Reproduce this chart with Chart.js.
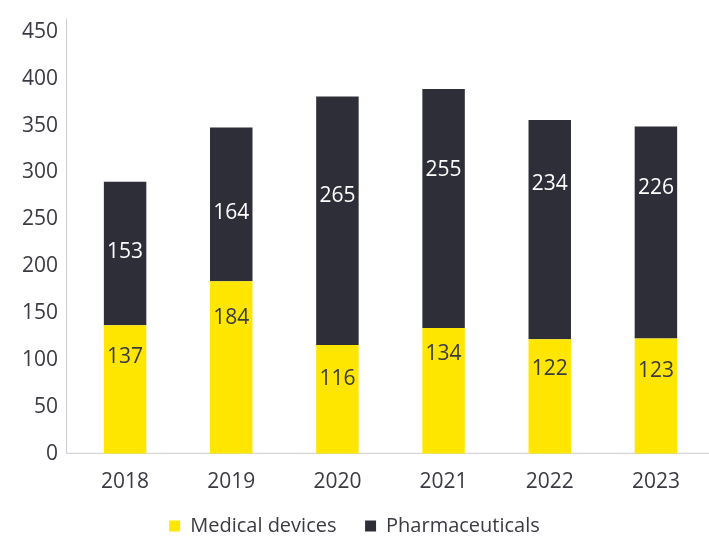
<!DOCTYPE html>
<html lang="en">
<head>
    <meta charset="UTF-8">
    <title>Medical devices and pharmaceuticals</title>
    <script src="https://cdn.jsdelivr.net/npm/chart.js"></script>
    <style>
        body { margin: 0; background: #fff; }
        #wrap { width: 709px; height: 536px; }
    </style>
</head>
<body>
    <div id="wrap"><canvas id="chart" width="709" height="536"></canvas></div>
    <script>
        const years = ['2018', '2019', '2020', '2021', '2022', '2023'];
        const medicalDevices = [137, 184, 116, 134, 122, 123];
        const pharmaceuticals = [153, 164, 265, 255, 234, 226];

        // where each value label sits inside its segment (0 = bottom, 1 = top)
        const medLabelAt = [0.75, 0.785, 0.69, 0.79, 0.745, 0.72];
        const pharmaLabelAt = [0.51, 0.445, 0.60, 0.66, 0.71, 0.71];

        const yellow = '#FFE600';
        const dark = '#2E2E38';
        const textColor = '#3a3a42';
        const axisColor = '#cbcbd3';
        const fontFamily = '"Open Sans", sans-serif';

        // axis lines sit a few pixels left of the first category
        const axisLines = {
            id: 'axisLines',
            beforeDatasetsDraw(chart) {
                const { ctx, chartArea } = chart;
                const x0 = chartArea.left - 5.5;
                const y0 = chartArea.bottom - 0.5;
                ctx.save();
                ctx.strokeStyle = axisColor;
                ctx.lineWidth = 1;
                ctx.beginPath();
                ctx.moveTo(x0, chartArea.top);
                ctx.lineTo(x0, y0);
                ctx.lineTo(chartArea.right, y0);
                ctx.stroke();
                ctx.restore();
            }
        };

        // writes the value of every segment on the bar itself
        const segmentLabels = {
            id: 'segmentLabels',
            afterDatasetsDraw(chart) {
                const ctx = chart.ctx;
                ctx.save();
                ctx.font = '21px ' + fontFamily;
                ctx.textAlign = 'center';
                ctx.textBaseline = 'middle';
                chart.data.datasets.forEach((ds, di) => {
                    const meta = chart.getDatasetMeta(di);
                    const spots = di === 0 ? medLabelAt : pharmaLabelAt;
                    ctx.fillStyle = di === 0 ? textColor : '#ffffff';
                    meta.data.forEach((bar, i) => {
                        const y = bar.base + (bar.y - bar.base) * spots[i];
                        ctx.fillText(ds.data[i], bar.x, y);
                    });
                });
                ctx.restore();
            }
        };

        new Chart(document.getElementById('chart'), {
            type: 'bar',
            data: {
                labels: years,
                datasets: [
                    {
                        label: 'Medical devices',
                        data: medicalDevices,
                        backgroundColor: yellow,
                        barPercentage: 0.4,
                        categoryPercentage: 1
                    },
                    {
                        label: 'Pharmaceuticals',
                        data: pharmaceuticals,
                        backgroundColor: dark,
                        barPercentage: 0.4,
                        categoryPercentage: 1
                    }
                ]
            },
            options: {
                responsive: false,
                animation: false,
                layout: { padding: { top: 10, right: 0, left: 0, bottom: -10 } },
                scales: {
                    x: {
                        stacked: true,
                        grid: { display: false },
                        border: { display: false },
                        ticks: { color: textColor, font: { family: fontFamily, size: 21 }, padding: 8 }
                    },
                    y: {
                        stacked: true,
                        min: 0,
                        max: 464,
                        grid: { display: false },
                        border: { display: false },
                        afterFit(scale) { scale.width = 72; },
                        ticks: {
                            stepSize: 50,
                            includeBounds: false,
                            color: textColor,
                            font: { family: fontFamily, size: 21 },
                            padding: 6
                        }
                    }
                },
                plugins: {
                    legend: {
                        position: 'bottom',
                        labels: {
                            boxWidth: 11,
                            boxHeight: 11,
                            padding: 13,
                            color: textColor,
                            font: { family: fontFamily, size: 20 },
                            generateLabels(chart) {
                                const items = Chart.defaults.plugins.legend.labels.generateLabels(chart);
                                items[0].text += '   ';
                                return items;
                            }
                        }
                    },
                    tooltip: { enabled: false }
                }
            },
            plugins: [axisLines, segmentLabels]
        });
    </script>
</body>
</html>
